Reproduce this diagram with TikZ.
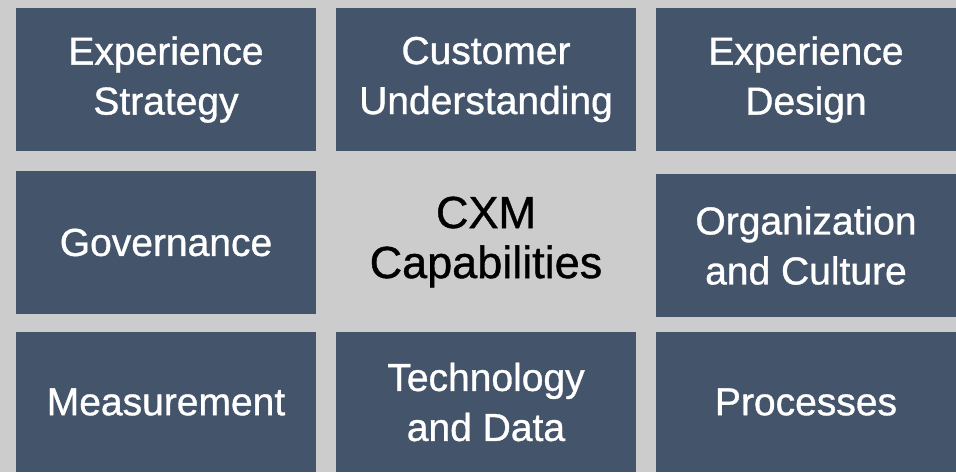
\documentclass[tikz,border=0pt]{standalone}
\usepackage{fontspec}
\setmainfont{Liberation Sans}
\newfontfamily\tilefont[FakeBold=0.9]{Liberation Sans}
\definecolor{slate}{HTML}{44546A}
\definecolor{panel}{HTML}{CCCCCC}
\tikzset{
  tile/.style={fill=slate,text=white,align=center,inner sep=0pt,
    minimum width=300pt,font=\tilefont\fontsize{39}{50}\selectfont},
  hub/.style={text=black,align=center,font=\tilefont\fontsize{45}{50}\selectfont}
}
\begin{document}
\begin{tikzpicture}[x=1pt,y=-1pt]
  \fill[panel] (0,0) rectangle (956,472);
  % nine-cell grid, middle cell left open
  \foreach \n/\x/\y/\h/\t in {strat/166/79.5/143/{Experience\\Strategy},
      cust/486/79.5/143/{Customer\\Understanding},
      design/806/79.5/143/{Experience\\Design},
      gov/166/242.5/143/{Governance},
      org/806/245.5/143/{Organization\\and Culture},
      meas/166/402/140/{Measurement},
      tech/486/402/140/{Technology\\and Data},
      proc/806/402/140/{Processes}} {
    \node[tile,minimum height={\h pt}] (\n) at (\x,\y) {\t};
  }
  \node[hub] (cxm) at (486,242) {CXM\\Capabilities};
\end{tikzpicture}
\end{document}
